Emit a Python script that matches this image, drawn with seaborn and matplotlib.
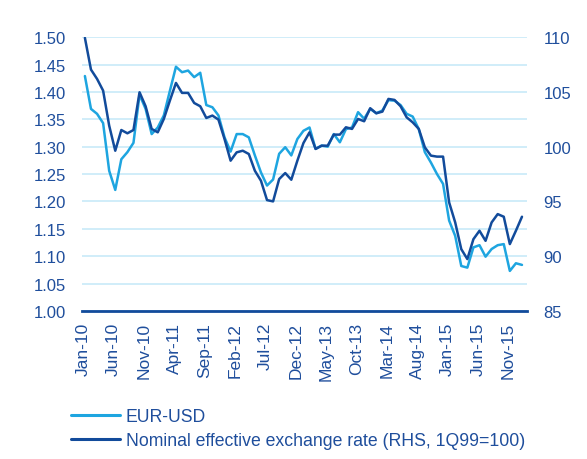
import numpy as np
import pandas as pd
import matplotlib
matplotlib.use('Agg')
import matplotlib.pyplot as plt
from matplotlib.lines import Line2D
import seaborn as sns

months = pd.date_range('2010-01-01', periods=73, freq='MS')

eur_usd = [1.429, 1.369, 1.360, 1.343, 1.256, 1.221, 1.277, 1.290, 1.307, 1.395, 1.369, 1.323,
           1.335, 1.357, 1.402, 1.446, 1.436, 1.439, 1.427, 1.435, 1.376, 1.372, 1.357, 1.317,
           1.291, 1.323, 1.323, 1.317, 1.284, 1.253, 1.229, 1.240, 1.287, 1.299, 1.284, 1.314,
           1.329, 1.335, 1.296, 1.302, 1.300, 1.323, 1.308, 1.332, 1.335, 1.363, 1.351, 1.369,
           1.361, 1.366, 1.385, 1.384, 1.376, 1.360, 1.355, 1.332, 1.290, 1.271, 1.250, 1.232,
           1.165, 1.137, 1.082, 1.079, 1.116, 1.120, 1.099, 1.113, 1.120, 1.122, 1.073, 1.087,
           1.084]

neer = [109.94, 107.04, 106.19, 105.12, 101.92, 99.63, 101.52, 101.22, 101.52, 104.97, 103.69, 101.62,
        101.31, 102.53, 104.21, 105.82, 104.91, 104.91, 103.99, 103.69, 102.62, 102.84, 102.47, 100.70,
        98.72, 99.48, 99.63, 99.33, 97.80, 96.89, 95.12, 95.00, 97.04, 97.59, 96.98, 98.72,
        100.33, 101.31, 99.79, 100.09, 100.09, 101.10, 101.10, 101.77, 101.62, 102.53, 102.32, 103.51,
        103.05, 103.20, 104.36, 104.27, 103.69, 102.68, 102.22, 101.62, 99.94, 99.18, 99.09, 99.09,
        94.91, 93.08, 90.64, 89.73, 91.55, 92.32, 91.40, 93.08, 93.84, 93.60, 91.10, 92.32,
        93.60]

tick_step = 5
left_ticks = [1.00, 1.05, 1.10, 1.15, 1.20, 1.25, 1.30, 1.35, 1.40, 1.45, 1.50]
right_ticks = [85, 90, 95, 100, 105, 110]
legend_labels = ['EUR-USD', 'Nominal effective exchange rate (RHS, 1Q99=100)']

light = '#1ea5e0'
dark = '#124b9b'
text_col = '#1f4e9c'
grid_col = '#c8eaf8'

sns.set_style('white')
plt.rcParams['font.family'] = ['Liberation Sans', 'DejaVu Sans']

df = pd.DataFrame({'idx': np.arange(len(months)), 'eur': eur_usd, 'neer': neer})

fig = plt.figure(figsize=(5.87, 4.60), dpi=100)
ax = fig.add_axes([0.1405, 0.322, 0.757, 0.595])
ax2 = ax.twinx()

sns.lineplot(data=df, x='idx', y='eur', ax=ax, color=light, linewidth=1.8)
sns.lineplot(data=df, x='idx', y='neer', ax=ax2, color=dark, linewidth=1.8)

ax.set_xlim(-0.4, len(months) - 0.2)
ax.set_ylim(1.0, 1.5)
ax2.set_ylim(85, 110)
ax.set_yticks(left_ticks)
ax.set_yticklabels([f'{v:.2f}' for v in left_ticks])
ax2.set_yticks(right_ticks)
ax2.set_yticklabels([str(v) for v in right_ticks])

# excel puts the category ticks a touch left of the points
xt = np.arange(0, len(months), tick_step)
ax.set_xticks(xt - 0.25)
ax.set_xticklabels([months[i].strftime('%b-%y') for i in xt], rotation=90)

ax.grid(axis='y', color=grid_col, linewidth=1.2)
ax.set_axisbelow(True)
for a in (ax, ax2):
    for s in a.spines.values():
        s.set_visible(False)
    a.set_xlabel('')
    a.set_ylabel('')
ax.spines['bottom'].set_visible(True)
ax.spines['bottom'].set_color(dark)
ax.spines['bottom'].set_linewidth(2)

fs = 12
ax.tick_params(axis='x', colors=text_col, labelsize=12.5, length=5, width=1.6, direction='out',
               color=dark, pad=3)
ax.tick_params(axis='y', colors=text_col, labelsize=fs, length=0, pad=12)
ax2.tick_params(axis='y', colors=text_col, labelsize=fs, length=0, pad=12)

handles = [Line2D([0], [0], color=light, linewidth=2.2),
           Line2D([0], [0], color=dark, linewidth=2.2)]
fig.legend(handles, legend_labels, loc='upper left', bbox_to_anchor=(0.121, 0.11), frameon=False,
           fontsize=12.7, labelcolor=text_col, handlelength=2.8, handletextpad=0.3,
           labelspacing=0.36, borderaxespad=0, borderpad=0)

fig.savefig('out.png', dpi=100)
